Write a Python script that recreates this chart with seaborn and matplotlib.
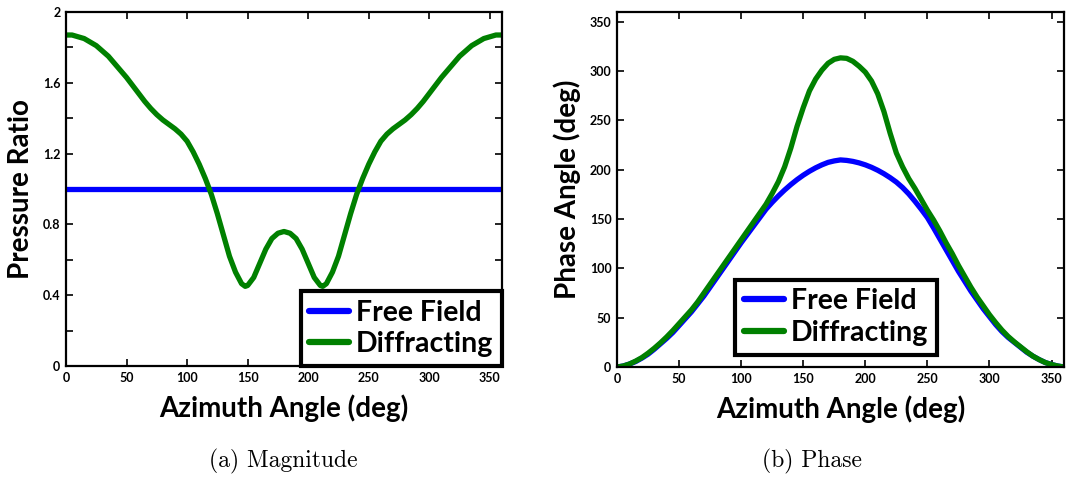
import numpy as np
import pandas as pd
import matplotlib
matplotlib.use("Agg")
import matplotlib.pyplot as plt
import seaborn as sns
from matplotlib.ticker import MultipleLocator, FuncFormatter

# ---- data ----
mag_angle = [0, 5, 10, 15, 20, 25, 30, 35, 40, 45, 50, 55, 60, 65, 70, 75, 80, 85, 90, 95,
             100, 105, 110, 115, 120, 125, 130, 135, 140, 145, 148, 150, 155, 160, 165, 170,
             175, 180, 185, 190, 195, 200, 205, 210, 212, 215, 220, 225, 230, 235, 240, 245,
             250, 255, 260, 265, 270, 275, 280, 285, 290, 295, 300, 305, 310, 315, 320, 325,
             330, 335, 340, 345, 350, 355, 360]
mag_diffracting = [1.87, 1.87, 1.86, 1.85, 1.83, 1.81, 1.78, 1.75, 1.71, 1.67, 1.63, 1.585,
                   1.54, 1.495, 1.455, 1.42, 1.39, 1.365, 1.34, 1.31, 1.27, 1.21, 1.14, 1.06,
                   0.97, 0.86, 0.74, 0.62, 0.53, 0.465, 0.45, 0.455, 0.50, 0.58, 0.66, 0.72,
                   0.75, 0.76, 0.75, 0.72, 0.66, 0.58, 0.50, 0.455, 0.45, 0.465, 0.53, 0.62,
                   0.74, 0.86, 0.97, 1.06, 1.14, 1.21, 1.27, 1.31, 1.34, 1.365, 1.39, 1.42,
                   1.455, 1.495, 1.54, 1.585, 1.63, 1.67, 1.71, 1.75, 1.78, 1.81, 1.83, 1.85,
                   1.86, 1.87, 1.87]
mag_free = [1.0] * len(mag_angle)

ph_angle = [0, 5, 10, 15, 20, 25, 30, 35, 40, 45, 50, 55, 60, 65, 70, 75, 80, 85, 90, 95,
            100, 105, 110, 115, 120, 125, 130, 135, 140, 145, 150, 155, 160, 165, 170, 175,
            180, 185, 190, 195, 200, 205, 210, 215, 220, 225, 230, 235, 240, 245, 250, 255,
            260, 265, 270, 275, 280, 285, 290, 295, 300, 305, 310, 315, 320, 325, 330, 335,
            340, 345, 350, 355, 360]
ph_free = [0, 1, 3, 5.5, 9, 13, 18, 23.5, 29, 35, 42, 49, 56, 64, 72, 81, 90, 99, 108, 117,
           126, 134.5, 143, 151.5, 160, 167, 173.5, 179.5, 185, 190, 194.5, 198.5, 202, 205,
           207.5, 209, 210, 209.5, 208.5, 207, 205, 202.5, 199.5, 196, 192, 187.5, 182, 175.5,
           168, 160, 151.5, 141, 130, 119, 108, 97, 87, 77, 68, 59, 51, 43, 36, 30, 25, 20,
           15, 11, 7.5, 4.5, 2.5, 1, 0]
ph_diffracting = [0, 1, 3, 6, 9.5, 14, 19, 24.5, 30.5, 37, 44, 51, 58, 66, 75, 84, 93, 102,
                  111, 120, 129, 138, 147, 156, 165, 176, 188, 203, 222, 244, 263, 280, 292,
                  301, 308, 312, 313.5, 313, 310, 305, 299, 290, 277, 259, 237, 217, 203, 191,
                  181, 170, 159, 149, 138, 126, 115, 103, 92, 81, 71, 62, 53, 45, 37.5, 31,
                  25.5, 20.5, 15.5, 11, 7.5, 4.5, 2.5, 1, 0]

series_names = ["Free Field", "Diffracting"]
colors = {"Free Field": "#0000ff", "Diffracting": "#008000"}

mag_df = pd.DataFrame({
    "angle": mag_angle * 2,
    "value": mag_free + mag_diffracting,
    "series": ["Free Field"] * len(mag_angle) + ["Diffracting"] * len(mag_angle),
})
ph_df = pd.DataFrame({
    "angle": ph_angle * 2,
    "value": ph_free + ph_diffracting,
    "series": ["Free Field"] * len(ph_angle) + ["Diffracting"] * len(ph_angle),
})

sns.set_theme(style="ticks")
plt.rcParams["font.family"] = ["Lato", "DejaVu Sans"]
plt.rcParams["font.weight"] = "bold"
for key in ["text.color", "axes.labelcolor", "xtick.color", "ytick.color", "axes.edgecolor"]:
    plt.rcParams[key] = "black"

fig = plt.figure(figsize=(10.66, 4.8), dpi=100)
ax1 = fig.add_axes([0.0619, 0.2375, 0.409, 0.7375])
ax2 = fig.add_axes([0.5788, 0.2354, 0.4193, 0.7396])

for ax, df in [(ax1, mag_df), (ax2, ph_df)]:
    sns.lineplot(data=df, x="angle", y="value", hue="series", hue_order=series_names,
                 palette=colors, linewidth=3.8, ax=ax, legend=True, sort=False,
                 solid_capstyle="round", solid_joinstyle="round")
    for sp in ax.spines.values():
        sp.set_linewidth(1.6)
        sp.set_color("black")
        sp.set_visible(True)
    ax.set_xlim(0, 360)
    ax.xaxis.set_major_locator(MultipleLocator(50))
    ax.tick_params(direction="in", top=True, right=True, length=5, width=1.2,
                   labelsize=9, pad=4, colors="black")
    ax.set_xlabel("Azimuth Angle (deg)", fontsize=20, fontweight="bold", labelpad=8)
    leg = ax.legend(handlelength=1.4, fontsize=20.5, frameon=True, fancybox=False,
                    framealpha=1.0, borderpad=0.3, labelspacing=0.2, handletextpad=0.25,
                    borderaxespad=0.0)
    leg.get_frame().set_edgecolor("black")
    leg.get_frame().set_linewidth(3.0)
    for t in leg.get_texts():
        t.set_fontweight("bold")
        t.set_color("black")
    for h in leg.get_lines():
        h.set_linewidth(4.5)

ax1.set_ylim(0, 2)
ax1.yaxis.set_major_locator(MultipleLocator(0.2))
ax1.yaxis.set_major_formatter(FuncFormatter(
    lambda v, p: ("%g" % round(v, 1)) if abs(round(v / 0.4) * 0.4 - v) < 1e-6 else ""))
ax1.set_ylabel("Pressure Ratio", fontsize=20, fontweight="bold", labelpad=6)
ax1.legend_.set_bbox_to_anchor((1.0, 0.0))
ax1.legend_._loc = 4

ax2.set_ylim(0, 360)
ax2.yaxis.set_major_locator(MultipleLocator(50))
ax2.set_ylabel("Phase Angle (deg)", fontsize=20, fontweight="bold", labelpad=6)
ax2.legend_.set_bbox_to_anchor((0.265, 0.035))
ax2.legend_._loc = 3

for ax in (ax1, ax2):
    for lbl in ax.get_xticklabels() + ax.get_yticklabels():
        lbl.set_fontweight("bold")

fig.text(0.266, 0.038, "(a) Magnitude", family="cmr10", fontsize=17, ha="center", va="center")
fig.text(0.762, 0.038, "(b) Phase", family="cmr10", fontsize=17, ha="center", va="center")

fig.savefig("out.png", dpi=100)
